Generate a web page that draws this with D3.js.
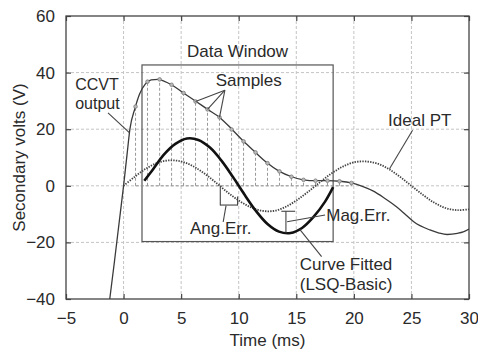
<!DOCTYPE html>
<meta charset="utf-8">
<style>
    body { margin: 0; background: white; }
    svg { display: block; font-family: "Liberation Sans", Arial, sans-serif; }
    .grid line { stroke: #c4c4c4; stroke-width: 1; stroke-dasharray: 3,2; }
    .frame { fill: none; stroke: #444; stroke-width: 1.3; }
    .lbl { font-size: 17px; fill: #2a2a2a; }
    .lead { stroke: #444; stroke-width: 1.1; fill: none; }
</style>
<svg width="478" height="351"></svg>
<script src="https://cdn.jsdelivr.net/npm/d3@7"></script>
<script>
    // values
    var xTicks = [-5, 0, 5, 10, 15, 20, 25, 30],
        yTicks = [-40, -20, 0, 20, 40, 60];

    var ccvtT = [-1.2, -0.8, -0.4, 0, 0.3, 0.55, 1.0, 1.4, 1.9, 2.4, 3.0, 3.5, 4.2, 5.2, 6.3, 7.3, 8.4, 9.4, 10.4, 11.4, 12.4, 13.5, 14.6, 15.6, 16.7, 17.7, 18.8, 19.8, 20.8, 21.7, 22.7, 23.7, 24.5, 25.2, 26.6, 27.4, 28.1, 29.0, 29.5, 30.0],
        ccvtV = [-40, -27, -13.5, 0, 11, 20, 27.5, 32.5, 36, 37.4, 37.6, 37.0, 35.6, 32.8, 29.8, 27.0, 24.0, 20.0, 15.8, 12.0, 8.3, 5.2, 3.2, 2.1, 1.8, 1.8, 1.6, 1.0, -0.3, -1.9, -4.5, -7.4, -10.2, -12.7, -15.6, -16.7, -17.2, -16.8, -16.3, -15.3];

    var idealT = [0, 1, 2, 3, 4, 5, 6, 7, 8, 9, 10, 11, 12, 13, 14, 15, 16, 17, 18, 19, 20, 21, 22, 23, 24, 25, 26, 27, 28, 29, 30],
        idealV = [0, 3.3, 6.2, 8.2, 9.0, 8.6, 7.0, 4.4, 1.2, -2.2, -5.2, -7.5, -8.8, -8.9, -7.6, -5.2, -2.2, 1.1, 4.2, 6.7, 8.3, 8.6, 7.9, 6.0, 3.2, 0, -3.2, -6.0, -7.9, -8.6, -8.3];

    var fitT = [1.8, 2.5, 3.5, 4.5, 5.5, 6.5, 7.5, 8.5, 9.5, 10.5, 11.5, 12.5, 13.5, 14.5, 15.5, 16.5, 17.5, 18.2],
        fitV = [1.8, 5.5, 11.0, 14.8, 16.7, 16.2, 13.5, 8.9, 3.1, -3.1, -8.9, -13.5, -16.2, -16.7, -14.9, -11.0, -5.6, -0.5];

    var sampleT = [1.04, 2.08, 3.13, 4.17, 5.21, 6.25, 7.29, 8.33, 9.38, 10.42, 11.46, 12.5, 13.54, 14.58, 15.63, 16.67, 17.71, 18.75, 19.79],
        sampleV = [28, 36.8, 37.6, 35.7, 32.8, 29.8, 27.0, 24.2, 19.9, 15.7, 11.8, 8.0, 5.1, 3.2, 2.1, 1.8, 1.8, 1.6, 1.0];

    // data window (ms, V)
    var windowT = [1.6, 18.2],
        windowV = [-19.7, 42.7];

    var svg = d3.select("svg"),
        margin = {top: 16, right: 9, bottom: 52, left: 66},
        width = +svg.attr("width") - margin.left - margin.right,
        height = +svg.attr("height") - margin.top - margin.bottom;

    var x = d3.scaleLinear().domain([-5, 30]).range([0, width]),
        y = d3.scaleLinear().domain([-40, 60]).range([height, 0]);

    var g = svg.append("g").attr("transform", "translate(" + margin.left + "," + margin.top + ")");

    g.append("clipPath").attr("id", "clip")
        .append("rect").attr("width", width).attr("height", height);

    // grid
    g.append("g").attr("class", "grid")
        .selectAll("line").data(xTicks.slice(1, -1)).enter().append("line")
        .attr("x1", d => x(d)).attr("x2", d => x(d)).attr("y1", 0).attr("y2", height);
    g.append("g").attr("class", "grid")
        .selectAll("line").data(yTicks.slice(1, -1)).enter().append("line")
        .attr("y1", d => y(d)).attr("y2", d => y(d)).attr("x1", 0).attr("x2", width);

    // axes with inward ticks
    var tickStyle = function(sel) {
        sel.select(".domain").remove();
        sel.selectAll(".tick line").attr("stroke", "#444").attr("stroke-width", 1.2);
        sel.selectAll("text").attr("fill", "#2a2a2a").style("font-size", "17px").style("font-family", "Liberation Sans, Arial, sans-serif");
    };
    g.append("g").attr("transform", "translate(0," + height + ")")
        .call(d3.axisBottom(x).tickValues(xTicks).tickSizeInner(-5).tickSizeOuter(0).tickPadding(13))
        .call(tickStyle);
    g.append("g")
        .call(d3.axisTop(x).tickValues(xTicks).tickSizeInner(-5).tickSizeOuter(0).tickFormat(""))
        .call(tickStyle);
    g.append("g")
        .call(d3.axisLeft(y).tickValues(yTicks).tickSizeInner(-5).tickSizeOuter(0).tickPadding(11))
        .call(tickStyle);
    g.append("g").attr("transform", "translate(" + width + ",0)")
        .call(d3.axisRight(y).tickValues(yTicks).tickSizeInner(-5).tickSizeOuter(0).tickFormat(""))
        .call(tickStyle);

    g.append("rect").attr("class", "frame").attr("width", width).attr("height", height);

    // data window box
    g.append("rect").attr("class", "frame")
        .attr("x", x(windowT[0])).attr("y", y(windowV[1]))
        .attr("width", x(windowT[1]) - x(windowT[0]))
        .attr("height", y(windowV[0]) - y(windowV[1]))
        .style("stroke", "#555").style("stroke-width", 1.2);

    var plot = g.append("g").attr("clip-path", "url(#clip)");

    // samples
    var samples = sampleT.map((t, i) => ({t: t, v: sampleV[i]}));
    plot.selectAll(".stem").data(samples).enter().append("line")
        .attr("x1", d => x(d.t)).attr("x2", d => x(d.t))
        .attr("y1", y(0)).attr("y2", d => y(d.v))
        .attr("stroke", "#999").attr("stroke-width", 1).attr("stroke-dasharray", "3,2");
    plot.append("line")
        .attr("x1", x(sampleT[0])).attr("x2", x(sampleT[sampleT.length - 1]))
        .attr("y1", y(0)).attr("y2", y(0))
        .attr("stroke", "#999").attr("stroke-width", 1).attr("stroke-dasharray", "3,2");

    var line = d3.line().x(d => x(d[0])).y(d => y(d[1]));

    plot.append("path")
        .datum(ccvtT.map((t, i) => [t, ccvtV[i]]))
        .attr("d", line.curve(d3.curveMonotoneX))
        .attr("fill", "none").attr("stroke", "#3a3a3a").attr("stroke-width", 1.3);

    plot.append("path")
        .datum(idealT.map((t, i) => [t, idealV[i]]))
        .attr("d", line.curve(d3.curveCatmullRom))
        .attr("fill", "none").attr("stroke", "#444").attr("stroke-width", 1.8).attr("stroke-dasharray", "1.4,1.2");

    plot.selectAll(".mark").data(samples).enter().append("circle")
        .attr("cx", d => x(d.t)).attr("cy", d => y(d.v)).attr("r", 1.8)
        .attr("fill", "#bbb").attr("stroke", "#777").attr("stroke-width", 0.8);

    plot.append("path")
        .datum(fitT.map((t, i) => [t, fitV[i]]))
        .attr("d", line.curve(d3.curveCatmullRom))
        .attr("fill", "none").attr("stroke", "#111").attr("stroke-width", 2.6);

    // annotations
    function text(t, v, s, anchor, size) {
        g.append("text").attr("class", "lbl")
            .attr("x", x(t)).attr("y", y(v))
            .style("font-size", size ? size + "px" : null)
            .attr("text-anchor", anchor || "start").text(s);
    }
    function lead(pts) {
        g.append("path").attr("class", "lead")
            .attr("d", d3.line().x(d => x(d[0])).y(d => y(d[1]))(pts));
    }

    text((windowT[0] + windowT[1]) / 2, 45.5, "Data Window", "middle");

    text(-4.2, 34.0, "CCVT", "start", 16);
    text(-4.2, 27.3, "output", "start", 16);
    lead([[-1.35, 25.8], [0.5, 18.8]]);

    text(8.0, 35.3, "Samples");
    [5, 6, 7].forEach(function(i) {
        lead([[8.8, 33.8], [sampleT[i], sampleV[i]]]);
    });

    text(22.97, 21.2, "Ideal PT");
    lead([[25.1, 19.6], [23.1, 6.0]]);

    // angle error bracket
    lead([[8.4, 0], [8.4, -7]]);
    lead([[9.9, -3.8], [9.9, -7]]);
    lead([[8.4, -6.8], [9.9, -6.8]]);
    lead([[8.65, -12.8], [8.9, -7]]);
    text(5.77, -17.1, "Ang.Err.");

    // magnitude error bracket
    lead([[14.1, -9.0], [14.1, -16.6]]);
    lead([[13.7, -9.0], [14.9, -9.0]]);
    lead([[14.2, -12.7], [17.5, -10.3]]);
    text(17.6, -12.6, "Mag.Err.");

    lead([[15.3, -15.4], [17.2, -25]]);
    text(15.3, -29.8, "Curve Fitted");
    text(15.3, -36.8, "(LSQ-Basic)");

    // axis titles
    svg.append("text").attr("class", "lbl")
        .attr("x", margin.left + width / 2).attr("y", 346)
        .attr("text-anchor", "middle").text("Time (ms)");
    svg.append("text").attr("class", "lbl")
        .attr("transform", "translate(25," + (margin.top + height / 2) + ") rotate(-90)")
        .attr("text-anchor", "middle").text("Secondary volts (V)");
</script>
